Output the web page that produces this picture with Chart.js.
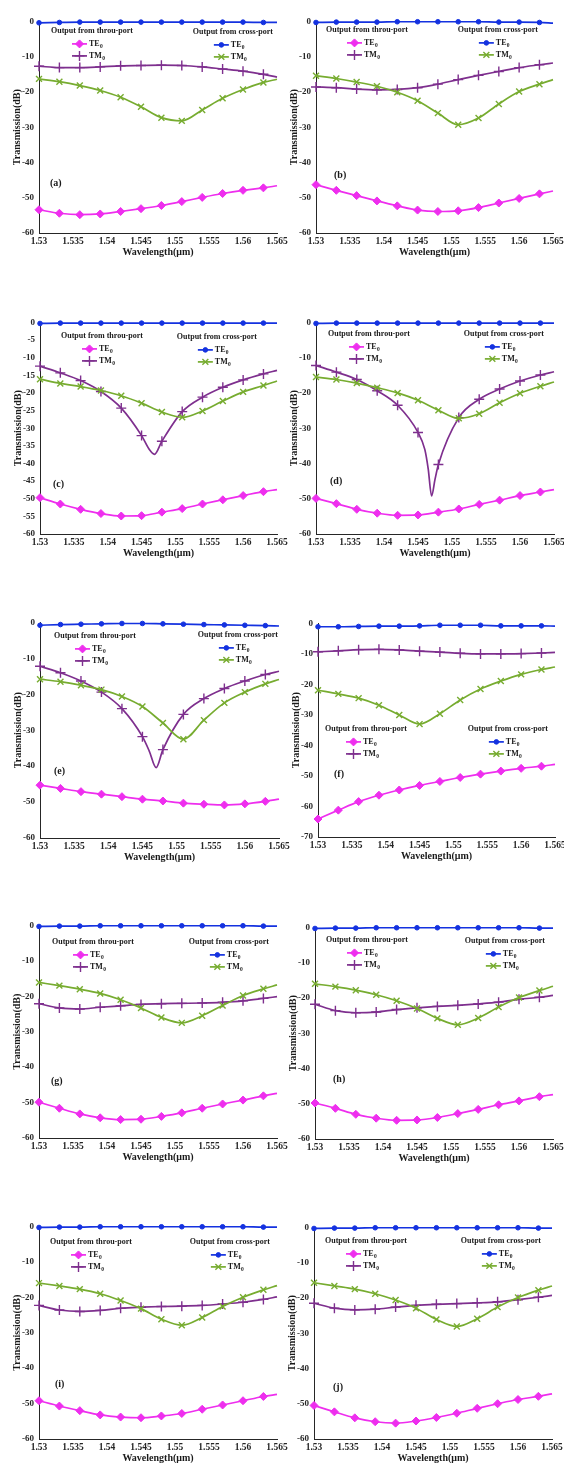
<!DOCTYPE html>
<html><head><meta charset="utf-8">
<script src="https://cdn.jsdelivr.net/npm/chart.js@4.4.0/dist/chart.umd.min.js"></script>
<style>
html,body{margin:0;padding:0;background:#fff;}
#page{position:relative;width:564px;height:1463px;overflow:hidden;background:#fff;}
#page canvas{position:absolute;}
</style></head><body><div id="page"></div>
<script>
// ---------- data ----------
const wavelength = [1.530,1.533,1.536,1.539,1.542,1.545,1.548,1.551,1.554,1.557,1.560,1.563,1.565];
const markerWavelength = [1.530,1.533,1.536,1.539,1.542,1.545,1.548,1.551,1.554,1.557,1.560,1.563];
const wavelengthDipC = [1.530,1.533,1.536,1.539,1.542,1.545,1.5462,1.5469,1.548,1.551,1.554,1.557,1.560,1.563,1.565];
const wavelengthDipD = [1.530,1.533,1.536,1.539,1.542,1.545,1.546,1.5465,1.547,1.5475,1.548,1.551,1.554,1.557,1.560,1.563,1.565];
const wavelengthDipE = [1.530,1.533,1.536,1.539,1.542,1.545,1.546,1.547,1.548,1.551,1.554,1.557,1.560,1.563,1.565];

const xTicks = [1.53,1.535,1.54,1.545,1.55,1.555,1.56,1.565];
const yTicks60 = [0,-10,-20,-30,-40,-50,-60];
const yTicks60by5 = [0,-5,-10,-15,-20,-25,-30,-35,-40,-45,-50,-55,-60];
const yTicks70 = [0,-10,-20,-30,-40,-50,-60,-70];

const seriesLabels = ['TE0','TM0','TE0','TM0'];
const groupTitles = ['Output from throu-port','Output from cross-port'];
const panelLabels = ['(a)','(b)','(c)','(d)','(e)','(f)','(g)','(h)','(i)','(j)'];
const xTitle = 'Wavelength(\u03bcm)';
const yTitle = 'Transmission(dB)';

// (a)
const a_teThru  = [-53.4,-54.4,-54.8,-54.6,-53.9,-53.1,-52.2,-51.1,-49.9,-48.8,-47.9,-47.2,-46.6];
const a_tmThru  = [-12.7,-13.1,-13.1,-12.9,-12.6,-12.5,-12.4,-12.5,-12.9,-13.5,-14.1,-15.0,-15.8];
const a_teCross = [-0.4,-0.3,-0.2,-0.2,-0.2,-0.2,-0.2,-0.2,-0.2,-0.2,-0.2,-0.3,-0.3];
const a_tmCross = [-16.3,-17.1,-18.2,-19.6,-21.5,-24.2,-27.3,-28.2,-25.1,-21.8,-19.3,-17.3,-16.4];
// (b)
const b_teThru  = [-46.3,-47.9,-49.4,-50.9,-52.3,-53.5,-53.9,-53.7,-52.8,-51.5,-50.2,-48.9,-48.1];
const b_tmThru  = [-18.6,-18.8,-19.2,-19.4,-19.3,-18.8,-17.8,-16.5,-15.3,-14.2,-13.1,-12.3,-11.8];
const b_teCross = [-0.3,-0.2,-0.2,-0.2,-0.1,-0.1,-0.1,-0.1,-0.1,-0.2,-0.2,-0.3,-0.5];
const b_tmCross = [-15.4,-16.2,-17.2,-18.4,-20.1,-22.5,-26.0,-29.3,-27.4,-23.4,-19.9,-17.8,-16.5];
// (c)
const c_teThru  = [-49.7,-51.5,-53.0,-54.2,-54.9,-54.8,-53.8,-52.8,-51.5,-50.3,-49.1,-48.0,-47.4];
const c_tmThru  = [-12.4,-14.3,-16.5,-19.6,-24.3,-32.1,-36.2,-37.4,-33.7,-25.3,-21.2,-18.4,-16.3,-14.6,-13.6];
const c_teCross = [-0.3,-0.2,-0.2,-0.2,-0.2,-0.2,-0.2,-0.2,-0.2,-0.2,-0.2,-0.2,-0.2];
const c_tmCross = [-16.1,-17.3,-18.2,-19.3,-20.8,-22.9,-25.4,-26.9,-25.1,-22.3,-19.7,-17.9,-16.6];
// (d)
const d_teThru  = [-49.9,-51.4,-53.0,-54.1,-54.7,-54.6,-53.8,-52.9,-51.6,-50.4,-49.1,-48.1,-47.4];
const d_tmThru  = [-12.2,-14.1,-16.2,-19.4,-23.5,-31.2,-36.0,-41.5,-49.2,-44.5,-40.3,-27.0,-21.8,-18.9,-16.6,-14.9,-14.0];
const d_teCross = [-0.3,-0.2,-0.2,-0.2,-0.2,-0.2,-0.2,-0.2,-0.2,-0.2,-0.2,-0.2,-0.2];
const d_tmCross = [-15.5,-16.2,-17.2,-18.5,-20.0,-22.1,-24.9,-27.2,-25.9,-22.8,-20.1,-18.1,-16.9];
// (e)
const e_teThru  = [-45.3,-46.2,-47.1,-47.8,-48.5,-49.2,-49.7,-50.3,-50.6,-50.8,-50.5,-49.8,-49.2];
const e_tmThru  = [-12.2,-14.0,-16.3,-19.4,-24.0,-31.8,-35.8,-40.4,-35.4,-25.6,-21.2,-18.4,-16.3,-14.5,-13.6];
const e_teCross = [-0.8,-0.6,-0.5,-0.4,-0.3,-0.3,-0.4,-0.5,-0.6,-0.7,-0.8,-0.9,-1.0];
const e_tmCross = [-15.8,-16.5,-17.5,-18.7,-20.6,-23.4,-28.0,-32.5,-27.2,-22.4,-19.4,-17.1,-15.9];
// (f)
const f_teThru  = [-64.1,-61.2,-58.4,-56.3,-54.6,-53.1,-51.8,-50.5,-49.4,-48.4,-47.5,-46.8,-46.2];
const f_tmThru  = [-9.3,-9.0,-8.6,-8.5,-8.7,-9.1,-9.4,-9.8,-10.0,-10.0,-9.9,-9.7,-9.5];
const f_teCross = [-1.1,-1.1,-1.0,-0.9,-0.9,-0.8,-0.6,-0.6,-0.6,-0.8,-0.8,-0.8,-0.9];
const f_tmCross = [-21.9,-23.1,-24.5,-26.8,-30.0,-33.0,-29.6,-25.1,-21.5,-18.9,-16.7,-15.1,-14.3];
// (g)
const g_teThru  = [-49.9,-51.6,-53.2,-54.3,-54.8,-54.7,-53.9,-52.9,-51.6,-50.4,-49.3,-48.1,-47.4];
const g_tmThru  = [-22.1,-23.3,-23.6,-23.1,-22.7,-22.3,-22.1,-22.0,-21.9,-21.7,-21.3,-20.6,-20.1];
const g_teCross = [-0.3,-0.2,-0.2,-0.1,-0.1,-0.1,-0.1,-0.1,-0.1,-0.1,-0.1,-0.2,-0.2];
const g_tmCross = [-16.1,-17.0,-18.0,-19.2,-21.0,-23.3,-26.0,-27.5,-25.5,-22.6,-19.8,-17.9,-16.8];
// (h)
const h_teThru  = [-49.8,-51.3,-53.0,-54.1,-54.7,-54.6,-53.9,-52.8,-51.6,-50.3,-49.2,-48.0,-47.4];
const h_tmThru  = [-21.8,-23.6,-24.2,-24.0,-23.3,-22.8,-22.4,-22.1,-21.7,-21.2,-20.4,-19.8,-19.3];
const h_teCross = [-0.3,-0.2,-0.2,-0.1,-0.1,-0.1,-0.1,-0.1,-0.1,-0.1,-0.1,-0.2,-0.2];
const h_tmCross = [-16.0,-16.8,-17.8,-19.1,-20.8,-23.0,-25.8,-27.6,-25.7,-22.6,-19.9,-17.9,-16.7];
// (i)
const i_teThru  = [-49.2,-50.7,-52.0,-53.2,-53.8,-54.0,-53.5,-52.8,-51.6,-50.4,-49.2,-48.0,-47.4];
const i_tmThru  = [-22.3,-23.6,-24.0,-23.7,-23.1,-22.8,-22.6,-22.5,-22.3,-21.9,-21.4,-20.6,-19.9];
const i_teCross = [-0.3,-0.2,-0.2,-0.1,-0.1,-0.1,-0.1,-0.1,-0.1,-0.1,-0.1,-0.2,-0.2];
const i_tmCross = [-16.0,-16.8,-17.7,-19.0,-20.9,-23.2,-26.2,-27.9,-25.7,-22.6,-20.0,-17.9,-16.7];
// (j)
const j_teThru  = [-50.5,-52.3,-54.0,-55.1,-55.5,-54.9,-53.9,-52.7,-51.3,-50.0,-48.8,-47.9,-47.2];
const j_tmThru  = [-21.5,-22.9,-23.4,-23.2,-22.6,-22.1,-21.8,-21.6,-21.4,-21.1,-20.5,-19.8,-19.3];
const j_teCross = [-0.3,-0.2,-0.2,-0.1,-0.1,-0.1,-0.1,-0.1,-0.1,-0.1,-0.1,-0.2,-0.2];
const j_tmCross = [-15.7,-16.6,-17.5,-18.8,-20.6,-22.9,-26.1,-28.1,-25.9,-22.6,-19.9,-17.8,-16.6];

const panelData = [
  {wl:[wavelength,wavelength,wavelength,wavelength], s:[a_teThru,a_tmThru,a_teCross,a_tmCross], yTicks:yTicks60},
  {wl:[wavelength,wavelength,wavelength,wavelength], s:[b_teThru,b_tmThru,b_teCross,b_tmCross], yTicks:yTicks60},
  {wl:[wavelength,wavelengthDipC,wavelength,wavelength], s:[c_teThru,c_tmThru,c_teCross,c_tmCross], yTicks:yTicks60by5},
  {wl:[wavelength,wavelengthDipD,wavelength,wavelength], s:[d_teThru,d_tmThru,d_teCross,d_tmCross], yTicks:yTicks60},
  {wl:[wavelength,wavelengthDipE,wavelength,wavelength], s:[e_teThru,e_tmThru,e_teCross,e_tmCross], yTicks:yTicks60},
  {wl:[wavelength,wavelength,wavelength,wavelength], s:[f_teThru,f_tmThru,f_teCross,f_tmCross], yTicks:yTicks70},
  {wl:[wavelength,wavelength,wavelength,wavelength], s:[g_teThru,g_tmThru,g_teCross,g_tmCross], yTicks:yTicks60},
  {wl:[wavelength,wavelength,wavelength,wavelength], s:[h_teThru,h_tmThru,h_teCross,h_tmCross], yTicks:yTicks60},
  {wl:[wavelength,wavelength,wavelength,wavelength], s:[i_teThru,i_tmThru,i_teCross,i_tmCross], yTicks:yTicks60},
  {wl:[wavelength,wavelength,wavelength,wavelength], s:[j_teThru,j_tmThru,j_teCross,j_tmCross], yTicks:yTicks60}
];

// ---------- layout / style ----------
const plotRects = [
  [39,19,277,233],[316,19,553,233],
  [40,320,277,534],[316,320,554,534],
  [40,620,279,838],[318,621,555,837],
  [39,923,277,1138],[315,925,553,1139],
  [39,1224,277,1439],[314,1225,552,1439]
];
// [thruLeftDx, thruDy, crossRightDx, crossDy, labelDx, labelDy]
const decoPos = [
  [12,10,4,11,11,162],[10,9,15,9,18,154],
  [21,14,20,15,13,162],[12,12,10,12,14,159],
  [14,14,1,13,14,149],[7,106,7,106,16,151],
  [13,17,8,17,12,156],[11,13,8,14,18,152],
  [11,16,7,16,16,158],[11,14,11,14,19,160]
];
const seriesStyle = [
  {color:'#EE2EEE', pointStyle:'rectRot', radius:4, pbw:1},
  {color:'#7E2F8E', pointStyle:'cross', radius:5, pbw:1.4},
  {color:'#1432E0', pointStyle:'circle', radius:2.3, pbw:1},
  {color:'#77AC30', pointStyle:'crossRot', radius:4.2, pbw:1.4}
];
const FONT = '"Liberation Serif","Times New Roman",serif';
const AXIS_COLOR = '#262626';
const TEXT_COLOR = '#1a1a1a';

function isMarker(x){ return markerWavelength.some(m => Math.abs(m - x) < 1e-7); }

function drawMarker(ctx, st, x, y){
  ctx.save();
  ctx.fillStyle = st.color; ctx.strokeStyle = st.color; ctx.lineWidth = st.pbw;
  if (Chart.helpers && Chart.helpers.drawPoint) {
    Chart.helpers.drawPoint(ctx, {pointStyle: st.pointStyle, radius: st.radius, rotation: 0, borderWidth: st.pbw}, x, y);
  }
  ctx.restore();
}

function drawGroup(ctx, left, cy, title, styles, labels){
  ctx.font = 'bold 8px ' + FONT;
  ctx.fillStyle = TEXT_COLOR;
  ctx.textAlign = 'left';
  ctx.textBaseline = 'middle';
  ctx.fillText(title, left, cy);
  for (let k = 0; k < 2; k++) {
    const y = cy + 12.5 + k * 12;
    const st = styles[k];
    ctx.save();
    ctx.strokeStyle = st.color; ctx.lineWidth = 1.7;
    ctx.beginPath(); ctx.moveTo(left + 21, y); ctx.lineTo(left + 36, y); ctx.stroke();
    ctx.restore();
    drawMarker(ctx, st, left + 28.5, y);
    const lab = labels[k];
    const base = lab.slice(0, lab.length - 1), sub = lab.slice(-1);
    ctx.font = 'bold 8px ' + FONT;
    ctx.fillStyle = TEXT_COLOR;
    ctx.fillText(base, left + 38, y);
    const w = ctx.measureText(base).width;
    ctx.font = 'bold 5.5px ' + FONT;
    ctx.fillText(sub, left + 38 + w + 0.3, y + 3);
  }
}

const decoPlugin = {
  id: 'deco',
  afterDatasetsDraw(chart, args, opts) {
    const {ctx, chartArea: ca} = chart;
    const p = opts.pos;
    ctx.save();
    ctx.font = 'bold 10px ' + FONT;
    ctx.fillStyle = TEXT_COLOR;
    ctx.textAlign = 'left';
    ctx.textBaseline = 'middle';
    ctx.fillText(opts.label, ca.left + p[4], ca.top + p[5]);
    drawGroup(ctx, ca.left + p[0], ca.top + p[1], groupTitles[0], [seriesStyle[0], seriesStyle[1]], [seriesLabels[0], seriesLabels[1]]);
    ctx.font = 'bold 8px ' + FONT;
    const w = ctx.measureText(groupTitles[1]).width;
    drawGroup(ctx, ca.right - p[2] - w, ca.top + p[3], groupTitles[1], [seriesStyle[2], seriesStyle[3]], [seriesLabels[2], seriesLabels[3]]);
    ctx.restore();
  }
};

const page = document.getElementById('page');
const Y_AXIS_W = 30, X_AXIS_H = 28, PAD_TOP = 8, PAD_RIGHT = 14;

panelData.forEach((pd, idx) => {
  const [l, t, r, b] = plotRects[idx];
  const canvas = document.createElement('canvas');
  const cw = (r - l) + Y_AXIS_W + PAD_RIGHT;
  const ch = (b - t) + PAD_TOP + X_AXIS_H;
  canvas.width = cw; canvas.height = ch;
  canvas.style.width = cw + 'px'; canvas.style.height = ch + 'px';
  canvas.style.left = (l - Y_AXIS_W) + 'px';
  canvas.style.top = (t - PAD_TOP) + 'px';
  page.appendChild(canvas);

  const datasets = pd.s.map((vals, k) => {
    const st = seriesStyle[k];
    const wl = pd.wl[k];
    return {
      label: seriesLabels[k],
      data: vals.map((v, n) => ({x: wl[n], y: v})),
      borderColor: st.color,
      backgroundColor: st.color,
      borderWidth: 1.7,
      pointStyle: st.pointStyle,
      pointBorderColor: st.color,
      pointBackgroundColor: st.color,
      pointBorderWidth: st.pbw,
      pointRadius: (c) => (c.raw && isMarker(c.raw.x)) ? st.radius : 0,
      pointHoverRadius: 0,
      cubicInterpolationMode: 'monotone',
      tension: 0.4,
      clip: false,
      order: 4 - k
    };
  });

  const yT = pd.yTicks;
  new Chart(canvas, {
    type: 'line',
    data: {datasets},
    plugins: [decoPlugin],
    options: {
      responsive: false,
      animation: false,
      devicePixelRatio: 1,
      layout: {padding: {top: PAD_TOP, right: PAD_RIGHT, left: 0, bottom: 0}},
      events: [],
      plugins: {
        legend: {display: false},
        tooltip: {enabled: false},
        deco: {label: panelLabels[idx], pos: decoPos[idx]}
      },
      scales: {
        x: {
          type: 'linear',
          min: xTicks[0], max: xTicks[xTicks.length - 1],
          afterBuildTicks: (sc) => { sc.ticks = xTicks.map(v => ({value: v})); },
          afterFit: (sc) => { sc.height = X_AXIS_H; },
          grid: {display: false, drawTicks: false},
          border: {display: true, color: AXIS_COLOR, width: 1},
          ticks: {
            padding: 3, color: AXIS_COLOR, maxRotation: 0, autoSkip: false,
            font: {family: FONT, size: 9.5, weight: 'bold'},
            callback: (v) => String(Number(Number(v).toFixed(3)))
          },
          title: {display: true, text: xTitle, color: TEXT_COLOR,
                  font: {family: FONT, size: 10, weight: 'bold'}, padding: {top: 0, bottom: 2.4}}
        },
        y: {
          type: 'linear',
          min: Math.min(...yT), max: Math.max(...yT),
          afterBuildTicks: (sc) => { sc.ticks = yT.slice().reverse().map(v => ({value: v})); },
          afterFit: (sc) => { sc.width = Y_AXIS_W; },
          grid: {display: false, drawTicks: false},
          border: {display: true, color: AXIS_COLOR, width: 1},
          ticks: {
            padding: 5, color: AXIS_COLOR, autoSkip: false,
            font: {family: FONT, size: 9, weight: 'bold'},
            callback: (v) => String(v)
          },
          title: {display: true, text: yTitle, color: TEXT_COLOR,
                  font: {family: FONT, size: 10, weight: 'bold'}, padding: {top: 2, bottom: 0}}
        }
      }
    }
  });
});
</script></body></html>
